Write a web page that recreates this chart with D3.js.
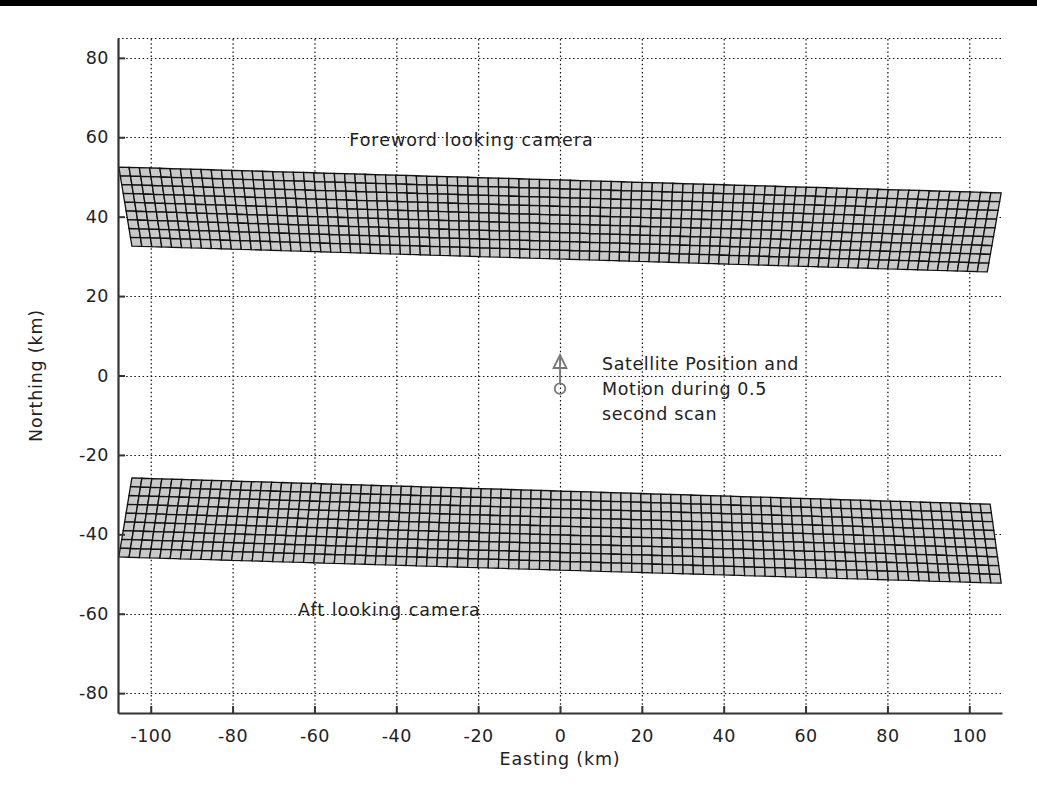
<!DOCTYPE html>
<html>
<head>
<meta charset="utf-8">
<script src="https://cdn.jsdelivr.net/npm/d3@7"></script>
<style>
  body { margin: 0; background: #fff; }
  svg { display: block; }
  text { font-family: "DejaVu Sans", sans-serif; fill: #222; }
</style>
</head>
<body>
<div id="chart"></div>
<script>
// ticks
const xTicks = [-100, -80, -60, -40, -20, 0, 20, 40, 60, 80, 100];
const yTicks = [-80, -60, -40, -20, 0, 20, 40, 60, 80];

// swath footprints, corners in km: top-left, top-right, bottom-right, bottom-left
const foreCorners = [[-107.8, 52.5], [107.8, 46.0], [104.4, 26.1], [-104.6, 32.6]];
const aftCorners = [[-104.6, -25.8], [105.1, -32.4], [107.8, -52.3], [-107.8, -45.7]];
const swathCols = 86,
  swathRows = 9;

// satellite start (circle) and end (triangle) during the scan
const satTrack = [[0, -3.3], [0, 3.4]];

// annotations: [x km, y km, text]
const notes = [
  [-51.5, 57.8, "Foreword looking camera"],
  [-64.0, -60.6, "Aft looking camera"],
];
const satNote = ["Satellite Position and", "Motion during 0.5", "second scan"];

const width = 1037,
  height = 787,
  margin = { top: 38, right: 35, bottom: 74, left: 118 };

const svg = d3
  .select("#chart")
  .append("svg")
  .attr("width", width)
  .attr("height", height);

// black strip at the very top
svg.append("rect").attr("x", 0).attr("y", 0).attr("width", width).attr("height", 6).attr("fill", "#000");

const x = d3
  .scaleLinear()
  .domain([-108, 108])
  .range([margin.left, width - margin.right]);

const y = d3
  .scaleLinear()
  .domain([-85, 85])
  .range([height - margin.bottom, margin.top]);

// dotted grid
const grid = svg.append("g").attr("stroke", "#111").attr("stroke-width", 1.2).attr("stroke-dasharray", "1.5,2.6");
grid
  .selectAll(".gx")
  .data(xTicks)
  .join("line")
  .attr("x1", (d) => x(d) + 0.5)
  .attr("x2", (d) => x(d) + 0.5)
  .attr("y1", y.range()[0])
  .attr("y2", y.range()[1]);
grid
  .selectAll(".gy")
  .data(yTicks)
  .join("line")
  .attr("y1", (d) => Math.round(y(d)) + 0.5)
  .attr("y2", (d) => Math.round(y(d)) + 0.5)
  .attr("x1", x.range()[0])
  .attr("x2", x.range()[1]);
// top box edge
grid
  .append("line")
  .attr("x1", x.range()[0])
  .attr("x2", x.range()[1])
  .attr("y1", y.range()[1] + 0.5)
  .attr("y2", y.range()[1] + 0.5);

// swath grids, cells from bilinear mapping of the footprint corners
function swathCells(c) {
  const top = d3.scaleLinear().domain([0, swathCols]).range([c[0], c[1]]);
  const bot = d3.scaleLinear().domain([0, swathCols]).range([c[3], c[2]]);
  const pt = (i, j) => d3.scaleLinear().domain([0, swathRows]).range([top(i), bot(i)])(j);
  const cells = [];
  for (let j = 0; j < swathRows; j++) {
    for (let i = 0; i < swathCols; i++) {
      cells.push([pt(i, j), pt(i + 1, j), pt(i + 1, j + 1), pt(i, j + 1)]);
    }
  }
  return cells;
}

const cellLine = d3
  .line()
  .x((d) => x(d[0]))
  .y((d) => y(d[1]))
  .curve(d3.curveLinearClosed);

[foreCorners, aftCorners].forEach((c) => {
  svg
    .append("g")
    .selectAll("path")
    .data(swathCells(c))
    .join("path")
    .attr("d", cellLine)
    .attr("fill", "#c9c9c9")
    .attr("stroke", "#111")
    .attr("stroke-width", 1.3);
});

// axes (ticks inward)
const fmt = (d) => String(d); // plain hyphen minus
const xAxis = svg
  .append("g")
  .attr("transform", `translate(0,${y.range()[0]})`)
  .call(d3.axisBottom(x).tickValues(xTicks).tickFormat(fmt).tickSize(-7).tickPadding(17).tickSizeOuter(0));
const yAxis = svg
  .append("g")
  .attr("transform", `translate(${x.range()[0]},0)`)
  .call(d3.axisLeft(y).tickValues(yTicks).tickFormat(fmt).tickSize(-7).tickPadding(9).tickSizeOuter(0));

[xAxis, yAxis].forEach((g) => {
  g.select(".domain").attr("stroke", "#333").attr("stroke-width", 2.2);
  g.selectAll(".tick line").attr("stroke", "#333").attr("stroke-width", 2);
  g.selectAll(".tick text")
    .attr("font-family", "DejaVu Sans")
    .attr("font-size", 17.5)
    .attr("letter-spacing", 0.5)
    .attr("fill", "#222");
});

svg
  .append("text")
  .attr("x", x(0))
  .attr("y", 765)
  .attr("text-anchor", "middle")
  .attr("font-size", 17.5)
  .attr("letter-spacing", 0.8)
  .text("Easting (km)");

svg
  .append("text")
  .attr("transform", `translate(42,${y(0)}) rotate(-90)`)
  .attr("text-anchor", "middle")
  .attr("font-size", 17.5)
  .attr("letter-spacing", 0.8)
  .text("Northing (km)");

// camera labels
svg
  .selectAll(".note")
  .data(notes)
  .join("text")
  .attr("x", (d) => x(d[0]))
  .attr("y", (d) => y(d[1]))
  .attr("font-size", 17.5)
  .attr("letter-spacing", 1)
  .text((d) => d[2]);

// satellite track
const sat = svg.append("g").attr("stroke", "#777").attr("fill", "none").attr("stroke-width", 1.8);
sat
  .append("line")
  .attr("x1", x(satTrack[0][0]))
  .attr("x2", x(satTrack[1][0]))
  .attr("y1", y(satTrack[0][1]) - 5)
  .attr("y2", y(satTrack[1][1]) - 7);
sat
  .append("circle")
  .attr("cx", x(satTrack[0][0]))
  .attr("cy", y(satTrack[0][1]))
  .attr("r", 5.3);
sat
  .append("path")
  .attr("transform", `translate(${x(satTrack[1][0])},${y(satTrack[1][1])})`)
  .attr("d", "M0,-7L6.5,6L-6.5,6Z");

svg
  .append("g")
  .selectAll("text")
  .data(satNote)
  .join("text")
  .attr("x", 602)
  .attr("y", (d, i) => 370 + i * 25)
  .attr("font-size", 17.5)
  .attr("letter-spacing", 0.6)
  .text((d) => d);
</script>
</body>
</html>
